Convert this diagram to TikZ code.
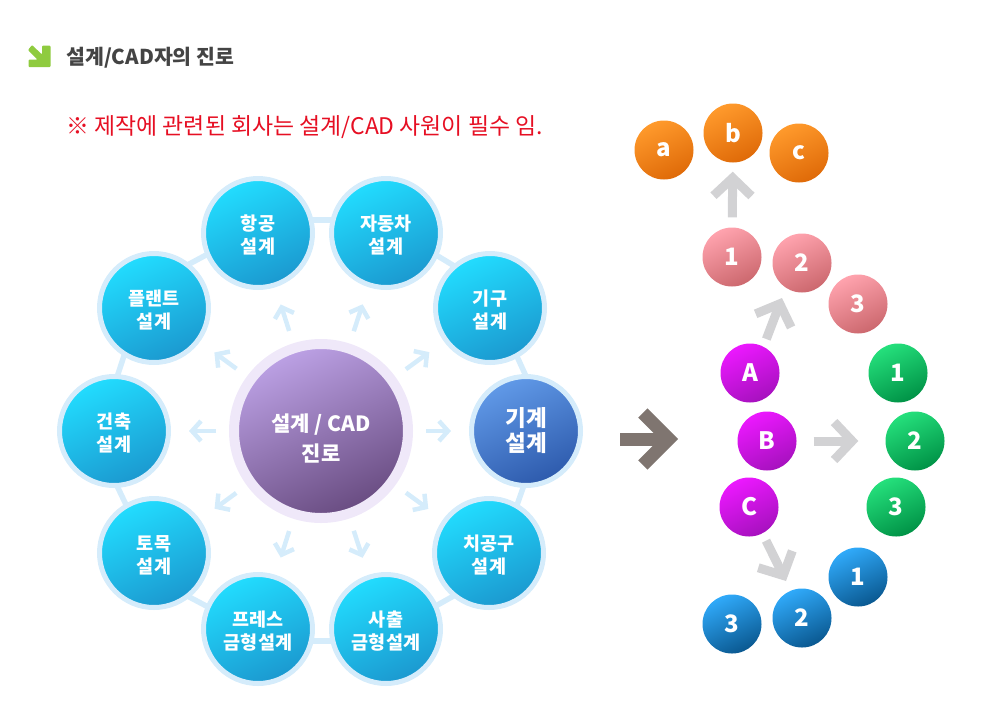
\documentclass[tikz,border=0pt]{standalone}
\usepackage{fontspec}
\setmainfont{Noto Sans CJK KR}
\usetikzlibrary{arrows.meta}

\definecolor{ringblue}{HTML}{D5ECFB}
\definecolor{skytop}{HTML}{22DDFF}
\definecolor{skybot}{HTML}{1B98CF}
\definecolor{graytone}{HTML}{D2D2D4}
\definecolor{darkgray}{HTML}{7F7570}
\definecolor{leaf}{HTML}{8FCB3F}
\definecolor{ringlav}{HTML}{EFE8F9}
\definecolor{notered}{HTML}{E60F23}
\definecolor{titlegray}{HTML}{444444}
\definecolor{mechtop}{HTML}{619AE8}
\definecolor{mechbot}{HTML}{2D5AAC}
\definecolor{hubtop}{HTML}{BDA2E6}
\definecolor{hubbot}{HTML}{684B80}

\tikzset{
  x=1pt, y=-1pt,
  ring/.style={circle, draw=ringblue, line width=5pt, minimum size=109pt, inner sep=0pt, align=center,
    top color=skytop, bottom color=skybot, shading angle=25, text=white, text height=44pt, text depth=3pt,
    font=\fontsize{18.5}{23}\selectfont\bfseries},
  link/.style={ringblue, line width=5.5pt, shorten <=-2pt, shorten >=-2pt},
  softarrow/.style={ringblue, line width=4.5pt, shorten <=13pt, shorten >=18pt, -{Straight Barb[length=9pt, width=20pt]}},
  grayarrow/.style={graytone, line width=9pt, -{Straight Barb[length=18pt, width=38pt]}},
  ball/.style={circle, minimum size=59pt, inner sep=0pt, text=white, top color=#1top, bottom color=#1bot, shading angle=25,
    font=\fontsize{24}{24}\selectfont\bfseries},
}
\definecolor{orgtop}{HTML}{FF9A2C}
\definecolor{orgbot}{HTML}{DF6A08}
\definecolor{pnktop}{HTML}{FFA3AE}
\definecolor{pnkbot}{HTML}{CC686E}
\definecolor{magtop}{HTML}{EC18FF}
\definecolor{magbot}{HTML}{A611BE}
\definecolor{grntop}{HTML}{25E07C}
\definecolor{grnbot}{HTML}{009246}
\definecolor{blutop}{HTML}{30AAFA}
\definecolor{blubot}{HTML}{0A5890}

\begin{document}
\begin{tikzpicture}
  \useasboundingbox (0,0) rectangle (1000,710);

  % heading
  \fill[leaf, rounded corners=1pt] (32,45) -- (42,54.5) -- (42,45.5) -- (50.5,45.5) -- (50.5,67)
    -- (28.5,67) -- (28.5,59.5) -- (37.5,59.5) -- (28,50) -- cycle;
  \node[anchor=west, text=titlegray, font=\fontsize{20.5}{20.5}\selectfont\bfseries] (title) at (63,58) {설계/CAD자의 진로};
  \node[anchor=west, text=notered, font=\fontsize{22.9}{22.9}\selectfont] (note) at (63,127) {※ 제작에 관련된 회사는 설계/CAD 사원이 필수 임.};

  % hub
  \node[ring] (hang) at (258,233) {항공\\설계};
  \node[ring] (auto) at (386,233) {자동차\\설계};
  \node[ring] (gigu) at (490,308) {기구\\설계};
  \node[ring, top color=mechtop, bottom color=mechbot, shading angle=25, font=\fontsize{22.5}{25}\selectfont\bfseries] (mech) at (526,431) {기계\\설계};
  \node[ring] (jig) at (489,553) {치공구\\설계};
  \node[ring] (inj) at (386,629) {사출\\금형설계};
  \node[ring] (press) at (258,629) {프레스\\금형설계};
  \node[ring] (civil) at (154,553) {토목\\설계};
  \node[ring] (arch) at (114,431) {건축\\설계};
  \node[ring] (plant) at (154,308) {플랜트\\설계};
  \node[circle, draw=ringlav, line width=10pt, minimum size=174pt, inner sep=0pt, align=center,
    top color=hubtop, bottom color=hubbot, shading angle=25, text=white,
    text height=63pt, font=\fontsize{21}{30}\selectfont\bfseries] (hub) at (321,431) {설계 / CAD\\진로};

  \draw[link] (hang.13) -- (auto.167);
  \draw[link] (auto.-24) -- (gigu.131);
  \draw[link] (gigu.-61) -- (mech.91);
  \draw[link] (mech.-93) -- (jig.60);
  \draw[link] (jig.-130) -- (inj.25);
  \draw[link] (inj.-168) -- (press.-12);
  \draw[link] (press.156) -- (civil.-51);
  \draw[link] (civil.120) -- (arch.-86);
  \draw[link] (arch.86) -- (plant.-122);
  \draw[link] (plant.51) -- (hang.-157);

  \foreach \t in {hang,auto,gigu,mech,jig,inj,press,civil,arch,plant}
    \draw[softarrow] (hub) -- (\t);

  % big arrow
  \coordinate (bigs) at (620,439);
  \coordinate (bigt) at (678,439);
  \draw[darkgray, line width=13pt, -{Straight Barb[length=26pt, width=52pt]}] (bigs) -- (bigt);

  % balls
  \node[ball=org] (oa) at (664,150) {a};
  \node[ball=org] (ob) at (733,133) {b};
  \node[ball=org] (oc) at (799,153) {c};
  \node[ball=pnk] (p1) at (732,257) {1};
  \node[ball=pnk] (p2) at (802,263) {2};
  \node[ball=pnk] (p3) at (858,304) {3};
  \node[ball=mag] (ma) at (750,373) {A};
  \node[ball=mag] (mb) at (767,441) {B};
  \node[ball=mag] (mc) at (749,507) {C};
  \node[ball=grn] (g1) at (898,373) {1};
  \node[ball=grn] (g2) at (915,441) {2};
  \node[ball=grn] (g3) at (896,507) {3};
  \node[ball=blu] (b1) at (858,577) {1};
  \node[ball=blu] (b2) at (802,618) {2};
  \node[ball=blu] (b3) at (732,624) {3};

  \coordinate (upt) at (782,298);
  \coordinate (dnt) at (786,581);
  \draw[grayarrow, shorten <=10pt, shorten >=9pt] (p1) -- (ob);
  \draw[grayarrow, shorten <=8pt] (ma.63) -- (upt);
  \draw[grayarrow, shorten <=17pt, shorten >=27pt] (mb) -- (g2);
  \draw[grayarrow, shorten <=8pt] (mc.-63) -- (dnt);
\end{tikzpicture}
\end{document}
